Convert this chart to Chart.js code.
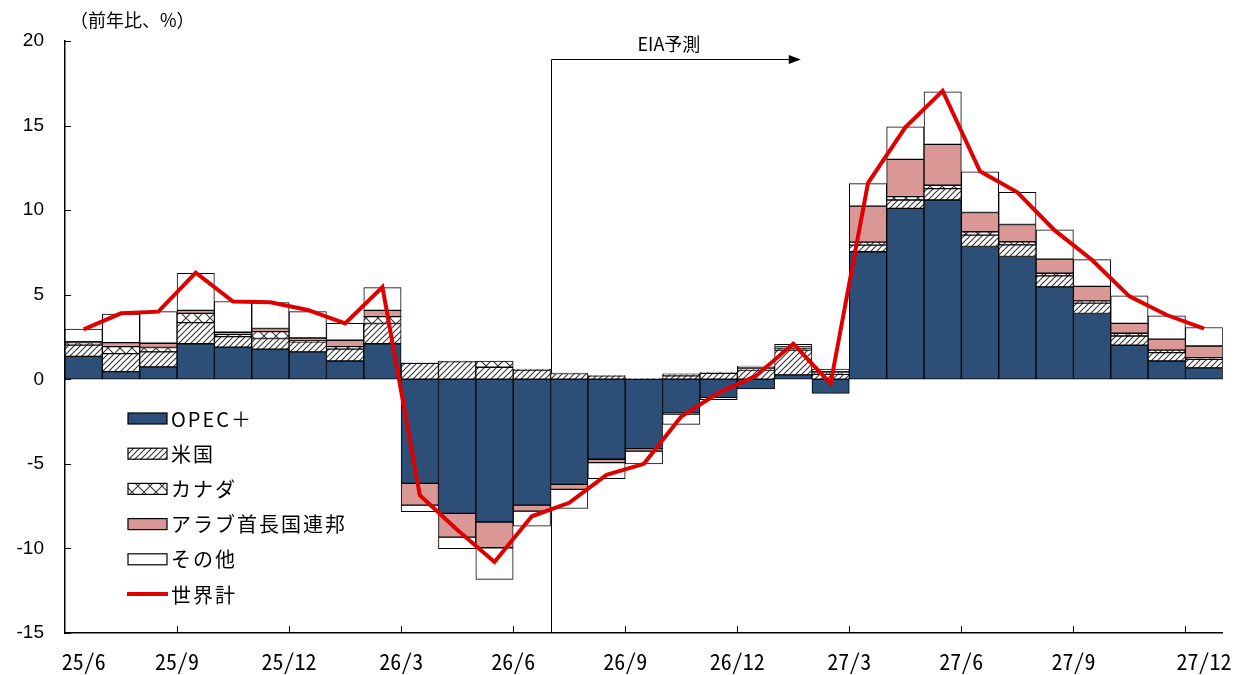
<!DOCTYPE html>
<html>
<head>
<meta charset="utf-8">
<script src="https://cdn.jsdelivr.net/npm/chart.js@4.4.1/dist/chart.umd.min.js"></script>
<style>
  html, body { margin: 0; padding: 0; background: #fff; }
  #wrap { width: 1247px; height: 675px; }
</style>
</head>
<body>
<div id="wrap"><canvas id="chart" width="1247" height="675"></canvas></div>
<script>
// 月次（前年比、%）
const months = ['25/6','25/7','25/8','25/9','25/10','25/11','25/12',
  '26/1','26/2','26/3','26/4','26/5','26/6','26/7','26/8','26/9','26/10','26/11','26/12',
  '27/1','27/2','27/3','27/4','27/5','27/6','27/7','27/8','27/9','27/10','27/11','27/12'];
const tickLabels = ['25/6','25/9','25/12','26/3','26/6','26/9','26/12','27/3','27/6','27/9','27/12'];

const opec   = [1.35, 0.45, 0.73, 2.1, 1.9, 1.78, 1.62, 1.08, 2.1, -6.15, -7.93, -8.44, -7.44, -6.21, -4.73, -4.1,
                -2.0, -1.08, -0.57, 0.26, -0.83, 7.54, 10.1, 10.6, 7.85, 7.26, 5.46, 3.89, 2.01, 1.08, 0.67];
const us     = [0.67, 1.07, 0.89, 1.25, 0.62, 0.63, 0.59, 0.7, 1.2, 0.95, 1.04, 0.71, 0.55, 0.34, 0.2, 0.05,
                0.2, 0.35, 0.55, 1.47, 0.3, 0.39, 0.5, 0.67, 0.67, 0.69, 0.65, 0.61, 0.55, 0.5, 0.51];
const canada = [0.15, 0.41, 0.26, 0.55, 0.12, 0.41, 0.06, 0.15, 0.4, 0.03, 0.03, 0.36, 0.06, 0.02, 0.02, 0.0,
                0.12, 0.05, 0.08, 0.1, 0.1, 0.18, 0.2, 0.2, 0.2, 0.18, 0.16, 0.14, 0.16, 0.14, 0.1];
const uae    = [0.05, 0.24, 0.25, 0.17, 0.14, 0.18, 0.17, 0.38, 0.37, -1.29, -1.4, -1.52, -0.35, -0.3, -0.2, -0.15,
                -0.05, 0.03, 0.05, 0.08, 0.05, 2.13, 2.2, 2.42, 1.14, 1.02, 0.83, 0.85, 0.59, 0.65, 0.69];
const others = [0.75, 1.68, 1.87, 2.19, 1.82, 1.54, 1.56, 1.0, 1.35, -0.39, -0.69, -1.87, -0.89, -1.13, -0.95, -0.75,
                -0.62, -0.12, 0.1, 0.15, 0.15, 1.33, 1.93, 3.11, 2.41, 1.91, 1.73, 1.58, 1.62, 1.38, 1.09];
const world  = [2.95, 3.9, 4.0, 6.3, 4.6, 4.55, 4.1, 3.3, 5.45, -6.85, -8.9, -10.8, -8.1, -7.3, -5.65, -5.0,
                -2.2, -0.8, 0.2, 2.1, -0.25, 11.6, 14.9, 17.05, 12.3, 11.05, 8.8, 7.05, 4.9, 3.8, 3.0];

const JP = '"Noto Sans CJK JP", sans-serif';

function makePattern(size, draw) {
  const c = document.createElement('canvas');
  c.width = c.height = size;
  const g = c.getContext('2d');
  g.fillStyle = '#fff';
  g.fillRect(0, 0, size, size);
  g.strokeStyle = '#3a3a3a';
  g.lineWidth = 1.2;
  draw(g, size);
  return g.createPattern(c, 'repeat');
}
const usFill = makePattern(6, (g, s) => {
  g.beginPath();
  g.moveTo(-1, s + 1); g.lineTo(s + 1, -1);
  g.moveTo(-1, 1); g.lineTo(1, -1);
  g.moveTo(s - 1, s + 1); g.lineTo(s + 1, s - 1);
  g.stroke();
});
const caFill = makePattern(12, (g, s) => {
  g.beginPath();
  g.moveTo(0, 0); g.lineTo(s, s);
  g.moveTo(s, 0); g.lineTo(0, s);
  g.stroke();
});

const decor = {
  id: 'decor',
  beforeDatasetsDraw(chart) {
    const { ctx, scales: { x, y } } = chart;
    // EIA予測の境界線と矢印
    const x0 = Math.round(x.getPixelForValue(months.indexOf('26/7') - 0.5)) + 0.5;
    const x1 = x.getPixelForValue(19.2);
    const ya = Math.round(y.getPixelForValue(18.93)) + 0.5;
    ctx.save();
    ctx.strokeStyle = '#000';
    ctx.lineWidth = 1;
    ctx.beginPath();
    ctx.moveTo(x0, y.bottom);
    ctx.lineTo(x0, ya);
    ctx.lineTo(x1 - 10, ya);
    ctx.stroke();
    ctx.fillStyle = '#000';
    ctx.beginPath();
    ctx.moveTo(x1, ya);
    ctx.lineTo(x1 - 12, ya - 4.5);
    ctx.lineTo(x1 - 12, ya + 4.5);
    ctx.closePath();
    ctx.fill();
    ctx.font = '18px ' + JP;
    ctx.textAlign = 'center';
    ctx.textBaseline = 'middle';
    ctx.fillText('EIA予測', x.getPixelForValue(15.67), y.getPixelForValue(19.8));
    ctx.restore();
  },
  afterDraw(chart) {
    const { ctx, chartArea, scales: { x2, y } } = chart;
    ctx.save();
    // 内向きの目盛り
    ctx.strokeStyle = '#000';
    ctx.lineWidth = 1;
    ctx.beginPath();
    y.ticks.forEach(t => {
      const py = Math.round(y.getPixelForValue(t.value)) + 0.5;
      ctx.moveTo(chartArea.left, py);
      ctx.lineTo(chartArea.left + 6, py);
    });
    tickLabels.slice(1).forEach(l => {
      const px = Math.round(x2.getPixelForValue(months.indexOf(l) - 0.5)) + 0.5;
      ctx.moveTo(px, chartArea.bottom);
      ctx.lineTo(px, chartArea.bottom - 7);
    });
    ctx.stroke();

    // 単位
    ctx.fillStyle = '#000';
    ctx.font = '18px ' + JP;
    ctx.textAlign = 'left';
    ctx.textBaseline = 'middle';
    ctx.fillText('（前年比、%）', 70, 20);

    // 凡例
    ctx.font = '20px ' + JP;
    ctx.letterSpacing = '2px';
    const rowY = 418, rowH = 35.2;
    chart.data.datasets.forEach((ds, i) => {
      const cy = rowY + i * rowH;
      if (ds.type === 'line') {
        ctx.strokeStyle = ds.borderColor;
        ctx.lineWidth = 4;
        ctx.beginPath();
        ctx.moveTo(127, cy);
        ctx.lineTo(168, cy);
        ctx.stroke();
      } else {
        ctx.fillStyle = ds.backgroundColor;
        ctx.fillRect(128, cy - 5, 39, 11);
        ctx.strokeStyle = '#000';
        ctx.lineWidth = 1.2;
        ctx.strokeRect(128, cy - 5, 39, 11);
      }
      ctx.fillStyle = '#000';
      ctx.fillText(ds.label, 171, cy + 1);
    });
    ctx.restore();
  }
};

new Chart(document.getElementById('chart'), {
  type: 'bar',
  data: {
    labels: months,
    datasets: [
      { label: 'OPEC＋', data: opec, backgroundColor: '#2D4E76', stack: 's', order: 1 },
      { label: '米国', data: us, backgroundColor: usFill, stack: 's', order: 1 },
      { label: 'カナダ', data: canada, backgroundColor: caFill, stack: 's', order: 1 },
      { label: 'アラブ首長国連邦', data: uae, backgroundColor: '#D99795', stack: 's', order: 1 },
      { label: 'その他', data: others, backgroundColor: '#FFFFFF', stack: 's', order: 1 },
      { type: 'line', label: '世界計', data: world, borderColor: '#E00000', borderWidth: 4,
        pointRadius: 0, fill: false, tension: 0, stack: 'w', order: 0 }
    ]
  },
  options: {
    responsive: false,
    animation: false,
    devicePixelRatio: 1,
    layout: { padding: { left: 0, right: 22, top: 41, bottom: 0 } },
    datasets: {
      bar: { borderColor: '#000', borderWidth: 1, borderSkipped: false,
             categoryPercentage: 1, barPercentage: 1 }
    },
    plugins: { legend: { display: false }, tooltip: { enabled: false } },
    scales: {
      x: { stacked: true, display: false },
      x2: {
        type: 'linear', position: 'bottom',
        min: -0.5, max: months.length - 0.5,
        offset: false,
        grid: { display: false, drawTicks: false, offset: false },
        border: { display: true, color: '#000', width: 1.5 },
        afterBuildTicks: s => {
          const last = months.length - 1;
          s.ticks = tickLabels.map(l => {
            const i = months.indexOf(l);
            return { value: (i === 0 || i === last) ? i : i - 0.5 };
          });
        },
        ticks: {
          autoSkip: false, maxRotation: 0, padding: 15, color: '#000',
          font: { family: '"Noto Sans Mono CJK JP", "Liberation Sans Narrow", sans-serif', size: 22 },
          callback: (v, i) => tickLabels[i]
        },
        afterFit: s => { s.height = 42; }
      },
      y: {
        stacked: true, min: -15, max: 20,
        grid: { display: false, drawTicks: false },
        border: { display: true, color: '#000', width: 1.5 },
        ticks: { stepSize: 5, padding: 21, color: '#000',
                 font: { family: '"Liberation Sans", sans-serif', size: 19 } },
        afterFit: s => { s.width = 65; }
      }
    }
  },
  plugins: [decor]
});
</script>
</body>
</html>
